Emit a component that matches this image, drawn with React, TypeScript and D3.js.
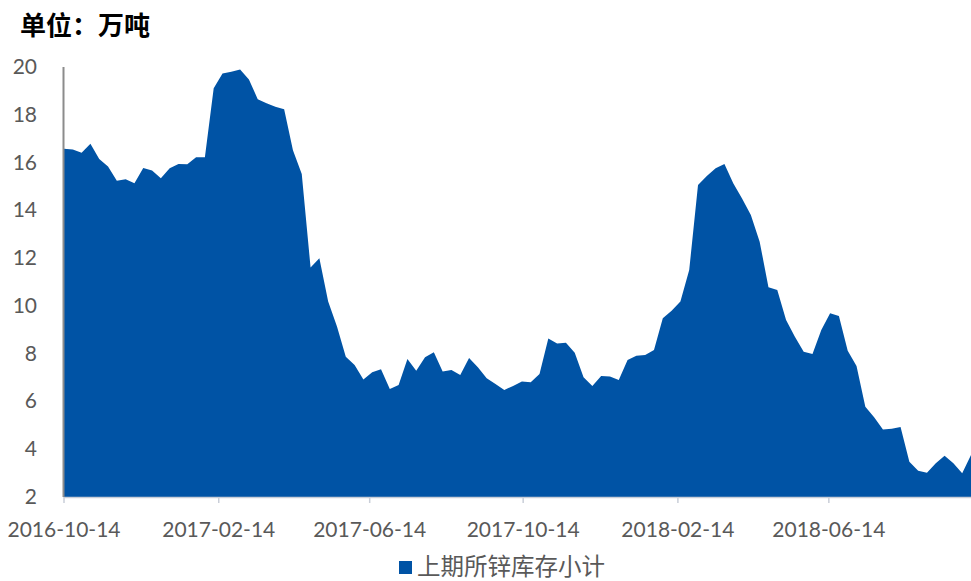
import React from 'react';
import * as d3 from 'd3';

const startDate = '2016-10-14';
const inventory = [
  16.58, 16.55, 16.41, 16.79, 16.15, 15.83, 15.24, 15.30, 15.13, 15.77,
  15.67, 15.34, 15.76, 15.94, 15.93, 16.22, 16.22, 19.11, 19.73, 19.80,
  19.90, 19.48, 18.65, 18.48, 18.34, 18.23, 16.52, 15.52, 11.61, 11.99,
  10.18, 9.14, 7.87, 7.53, 6.92, 7.22, 7.35, 6.52, 6.69, 7.78,
  7.29, 7.85, 8.06, 7.25, 7.32, 7.11, 7.82, 7.43, 6.97, 6.73,
  6.48, 6.65, 6.84, 6.80, 7.15, 8.64, 8.43, 8.46, 8.04, 7.01,
  6.65, 7.06, 7.04, 6.90, 7.73, 7.91, 7.94, 8.15, 9.48, 9.80,
  10.18, 11.50, 15.06, 15.44, 15.76, 15.94, 15.13, 14.50, 13.80, 12.69,
  10.78, 10.66, 9.41, 8.71, 8.08, 7.99, 8.99, 9.69, 9.58, 8.12,
  7.48, 5.78, 5.34, 4.83, 4.86, 4.93, 3.48, 3.10, 3.02, 3.41,
  3.73, 3.41, 2.99, 3.76,
];
const xTickLabels = ['2016-10-14', '2017-02-14', '2017-06-14', '2017-10-14', '2018-02-14', '2018-06-14'];
const yTicks = [2, 4, 6, 8, 10, 12, 14, 16, 18, 20];
const unitLabel = '单位：万吨';
const seriesName = '上期所锌库存小计';

const W = 971;
const H = 581;
const margin = { top: 67, right: 0, bottom: 84, left: 64 };
const fill = '#0053A5';
const axisFont = 'Lato, "Open Sans", sans-serif';
const cjkFont = '"Noto Sans CJK SC", sans-serif';

const parse = d3.timeParse('%Y-%m-%d');

export default function App() {
  const t0 = parse(startDate) as Date;
  // weekly readings, one every Friday
  const data = inventory.map((v, i) => ({ date: d3.timeDay.offset(t0, i * 7), value: v }));

  const x = d3.scaleTime()
    .domain([data[0].date, data[data.length - 1].date])
    .range([margin.left, W - margin.right]);
  const y = d3.scaleLinear()
    .domain([2, 20])
    .range([H - margin.bottom, margin.top]);

  const area = d3.area<{ date: Date; value: number }>()
    .x(d => x(d.date))
    .y0(y(2))
    .y1(d => y(d.value));

  const baseY = y(2);

  return (
    <svg width={W} height={H} style={{ position: 'fixed', left: 0, top: 0, background: '#fff' }}>
      <text x={20} y={35} fontFamily={cjkFont} fontWeight={700} fontSize={26} fill="#000">{unitLabel}</text>

      <path d={area(data) || ''} fill={fill} />

      {/* x axis */}
      <line x1={margin.left} x2={W} y1={baseY + 0.5} y2={baseY + 0.5} stroke="#C9CED8" strokeWidth={1.5} />
      {xTickLabels.map(s => {
        const tx = x(parse(s) as Date);
        return (
          <g key={s}>
            <line x1={tx} x2={tx} y1={baseY} y2={baseY + 6} stroke="#C9CED8" strokeWidth={1.5} />
            <text x={tx} y={537} textAnchor="middle" fontFamily={axisFont} fontSize={21} fill="#595959">{s}</text>
          </g>
        );
      })}

      {/* y axis */}
      <line x1={margin.left - 0.5} x2={margin.left - 0.5} y1={y(20)} y2={baseY} stroke="#8C8C8C" strokeWidth={2} />
      {yTicks.map(t => (
        <text key={t} x={37} y={y(t) + 7} textAnchor="end" fontFamily={axisFont} fontSize={21} fill="#595959">{t}</text>
      ))}

      {/* legend */}
      <rect x={399} y={561} width={13} height={13} fill={fill} />
      <text x={417} y={575} fontFamily={cjkFont} fontSize={23.5} fill="#595959">{seriesName}</text>
    </svg>
  );
}
